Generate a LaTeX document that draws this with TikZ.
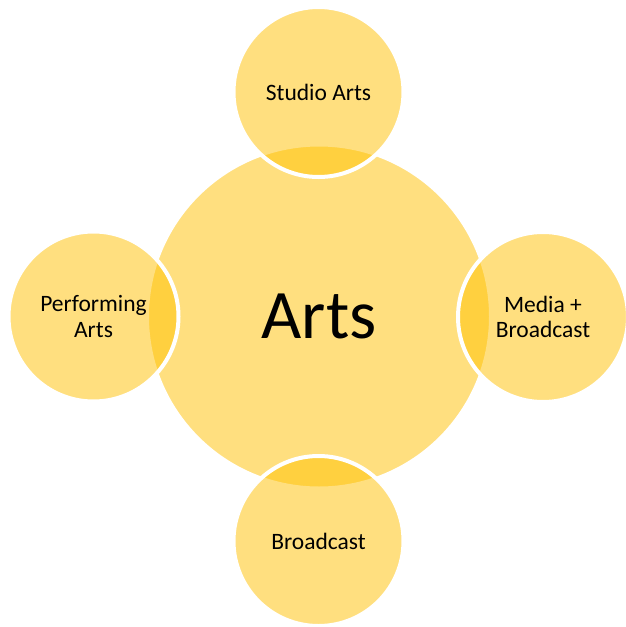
\documentclass[tikz,border=0pt]{standalone}
\usepackage{fontspec}
\setmainfont{Carlito}
\definecolor{artsyellow}{RGB}{255,192,0}
\begin{document}
\begin{tikzpicture}[x=1pt,y=-1pt]
\useasboundingbox (0,0) rectangle (625,627);
\tikzset{
  bubble/.style={circle, fill=artsyellow, fill opacity=0.5, text opacity=1,
    draw=white, line width=4pt, inner sep=0pt, align=center, text=black},
  hub/.style={bubble, minimum size=344pt, font=\fontsize{69.5}{80}\selectfont},
  sat/.style={bubble, minimum size=170pt, font=\fontsize{23.5}{25.5}\selectfont}
}
\node[hub] (arts) at (319,316.5) {Arts};
\node[sat] (studio) at (318.5,92) {Studio Arts};
\node[sat] (perf) at (93.5,316.5) {Performing\\Arts};
\node[sat] (media) at (543,317) {Media +\\Broadcast};
\node[sat] (broad) at (318.5,541) {Broadcast};
\end{tikzpicture}
\end{document}
